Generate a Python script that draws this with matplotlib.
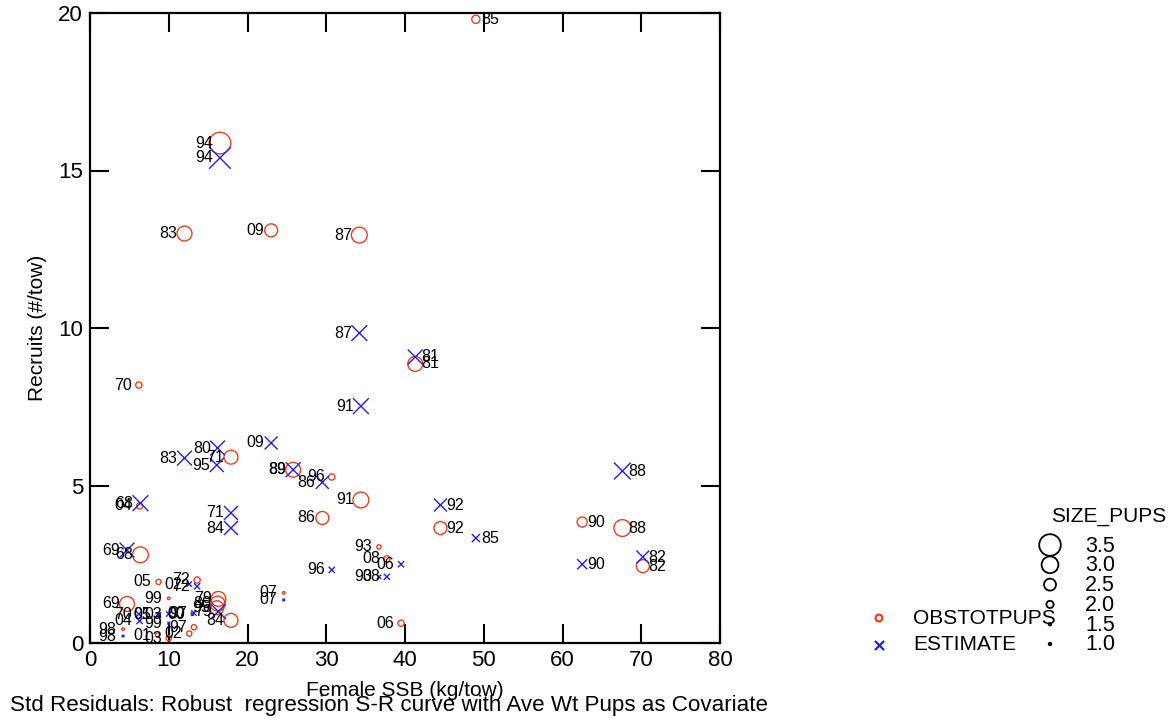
import matplotlib

matplotlib.use("Agg")
import matplotlib.pyplot as plt

plt.rcParams["font.family"] = ["Liberation Sans", "DejaVu Sans"]

years = ["68", "69", "70", "71", "72", "79", "80", "81", "82", "83", "84", "85",
         "86", "87", "88", "89", "90", "91", "92", "93", "94", "95", "96", "97",
         "98", "99", "00", "01", "02", "03", "04", "05", "06", "07", "08", "09"]
ssb = [6.4, 4.7, 6.2, 17.9, 13.6, 16.3, 16.2, 41.3, 70.2, 12.0, 17.9, 49.0,
       29.5, 34.2, 67.6, 25.8, 62.5, 34.4, 44.5, 36.7, 16.5, 16.1, 30.7, 13.2,
       4.2, 10.0, 13.0, 8.6, 12.6, 10.0, 6.3, 8.7, 39.5, 24.6, 37.7, 23.0]
obs_recruits = [2.80, 1.24, 8.19, 5.90, 2.00, 1.40, 1.25, 8.86, 2.44, 13.00, 0.72, 19.80,
                3.97, 12.95, 3.65, 5.50, 3.84, 4.54, 3.65, 3.05, 15.87, 1.12, 5.27, 0.50,
                0.44, 1.42, 0.95, 0.25, 0.30, 0.15, 4.35, 1.94, 0.63, 1.59, 2.67, 13.10]
est_recruits = [4.44, 2.95, 0.92, 4.13, 1.80, 1.00, 6.19, 9.08, 2.73, 5.87, 3.65, 3.33,
                5.10, 9.84, 5.46, 5.50, 2.50, 7.52, 4.38, 2.10, 15.40, 5.65, 2.32, 0.95,
                0.22, 0.63, 0.90, 0.90, 1.87, 0.92, 0.70, 0.89, 2.50, 1.37, 2.10, 6.35]
size_pups = [2.9, 2.8, 1.9, 2.7, 1.9, 2.8, 2.8, 2.8, 2.6, 2.8, 2.7, 2.1,
             2.6, 2.9, 3.0, 2.8, 2.3, 2.9, 2.6, 1.7, 3.5, 2.7, 1.9, 1.8,
             1.3, 1.0, 1.5, 1.7, 1.8, 1.8, 1.9, 1.8, 1.9, 1.5, 1.9, 2.6]

size_keys = [3.5, 3.0, 2.5, 2.0, 1.5, 1.0]
size_key_labels = ["3.5", "3.0", "2.5", "2.0", "1.5", "1.0"]

OBS_COLOR = "#e8401c"
EST_COLOR = "#1f1fe0"


def _radius_px(s):
    return max(1.3, 4.8 * (s - 1.25))


def _area(s):
    # scatter area in pt^2 at 100 dpi
    return (2 * _radius_px(s) * 0.72) ** 2


fig = plt.figure(figsize=(11.76, 7.25), dpi=100)
ax = fig.add_axes([90 / 1176, 82 / 725, 630 / 1176, 630 / 725])

areas = [_area(s) for s in size_pups]
ax.scatter(ssb, obs_recruits, s=areas, marker="o", facecolors="none",
           edgecolors=OBS_COLOR, linewidths=1.0, zorder=3)
ax.scatter(ssb, est_recruits, s=areas, marker="x", color=EST_COLOR,
           linewidths=1.0, zorder=3)

for yr, x, yo, ye in zip(years, ssb, obs_recruits, est_recruits):
    right = x > 40
    off = (4, 0) if right else (-5, 0)
    ha = "left" if right else "right"
    for yy in (yo, ye):
        ax.annotate(yr, (x, yy), xytext=off, textcoords="offset points",
                    ha=ha, va="center", fontsize=11.5, color="black", zorder=4)

ax.set_xlim(0, 80)
ax.set_ylim(0, 20)
ax.set_xticks(range(0, 81, 10))
ax.set_yticks([0, 5, 10, 15, 20])
ax.tick_params(direction="in", length=14, width=1.5, labelsize=16,
               top=True, right=True, pad=5)
for sp in ax.spines.values():
    sp.set_linewidth(1.6)
ax.set_xlabel("Female SSB (kg/tow)", fontsize=15, labelpad=7)
ax.set_ylabel("Recruits (#/tow)", fontsize=15, labelpad=8)

# --- keys, drawn in pixel coordinates of the figure
key = fig.add_axes([0, 0, 1, 1])
key.set_xlim(0, 1176)
key.set_ylim(725, 0)
key.set_axis_off()
key.patch.set_visible(False)

key.scatter([879], [618], s=_area(1.95), marker="o", facecolors="none",
            edgecolors=OBS_COLOR, linewidths=1.6)
key.scatter([879], [645], s=_area(2.2), marker="x", color=EST_COLOR, linewidths=1.6)
key.text(913, 619, "OBSTOTPUPS", fontsize=15, ha="left", va="center")
key.text(913, 645, "ESTIMATE", fontsize=15, ha="left", va="center")

key.text(1109, 517, "SIZE_PUPS", fontsize=15, ha="center", va="center")
for i, (s, lab) in enumerate(zip(size_keys, size_key_labels)):
    yy = 545 + i * 19.8
    key.scatter([1050], [yy], s=_area(s), marker="o", facecolors="none",
                edgecolors="black", linewidths=1.3)
    key.text(1085, yy + 1, lab, fontsize=15.5, ha="left", va="center")

fig.text(10 / 1176, 1 - 706 / 725,
         "Std Residuals: Robust  regression S-R curve with Ave Wt Pups as Covariate",
         fontsize=16.1, ha="left", va="center")

fig.savefig("out.png", dpi=100)
plt.close(fig)
